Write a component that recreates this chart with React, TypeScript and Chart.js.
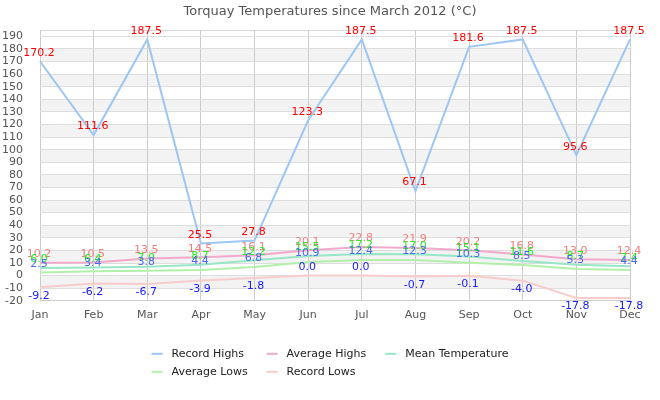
import React, { useEffect, useRef } from "react";
import { Chart, registerables } from "chart.js";

Chart.register(...registerables);

const months = ["Jan", "Feb", "Mar", "Apr", "May", "Jun", "Jul", "Aug", "Sep", "Oct", "Nov", "Dec"];

const recordHighs = [170.2, 111.6, 187.5, 25.5, 27.8, 123.3, 187.5, 67.1, 181.6, 187.5, 95.6, 187.5];
const averageHighs = [10.2, 10.5, 13.5, 14.5, 16.1, 20.1, 22.8, 21.9, 20.2, 16.8, 13.0, 12.4];
const meanTemps = [6.0, 6.4, 7.0, 8.7, 12.2, 15.5, 17.2, 17.0, 15.1, 11.6, 8.7, 7.4];
const averageLows = [2.5, 3.4, 3.8, 4.4, 6.8, 10.9, 12.4, 12.3, 10.3, 8.5, 5.3, 4.4];
const recordLows = [-9.2, -6.2, -6.7, -3.9, -1.8, 0.0, 0.0, -0.7, -0.1, -4.0, -17.8, -17.8];

const seriesNames = ["Record Highs", "Average Highs", "Mean Temperature", "Average Lows", "Record Lows"];
const lineColors = ["#9ec6f2", "#f2a9cc", "#98e6c6", "#b2f0aa", "#f7cccc"];
const labelColors = ["#ff0000", "#f08080", "#22ee22", "#4a6cf0", "#1a1aff"];

const TITLE = "Torquay Temperatures since March 2012 (°C)";
const FONT = "'DejaVu Sans', sans-serif";

// grey bands behind the plot, top border and the title centred on the canvas
const bandsPlugin = {
  id: "bands",
  beforeDraw(chart: any) {
    const { ctx, chartArea, scales } = chart;
    const y = scales.y;
    ctx.save();
    ctx.fillStyle = "#f3f3f3";
    for (let v = -10; v < 190; v += 20) {
      const top = y.getPixelForValue(v + 10);
      const bot = y.getPixelForValue(v);
      ctx.fillRect(chartArea.left, top, chartArea.right - chartArea.left, bot - top);
    }
    ctx.strokeStyle = "#d9d9d9";
    ctx.lineWidth = 1;
    ctx.beginPath();
    ctx.moveTo(chartArea.left, chartArea.top + 0.5);
    ctx.lineTo(chartArea.right, chartArea.top + 0.5);
    ctx.stroke();

    ctx.font = "13px " + FONT;
    ctx.fillStyle = "#555";
    ctx.textAlign = "center";
    ctx.textBaseline = "middle";
    ctx.fillText(TITLE, chart.width / 2, 12);
    ctx.restore();
  },
};

// value labels over/under each point
const valueLabelsPlugin = {
  id: "valueLabels",
  afterDatasetsDraw(chart: any) {
    const { ctx } = chart;
    ctx.save();
    ctx.font = "11px " + FONT;
    ctx.textAlign = "center";
    chart.data.datasets.forEach((ds: any, di: number) => {
      const meta = chart.getDatasetMeta(di);
      ctx.fillStyle = labelColors[di];
      meta.data.forEach((pt: any, i: number) => {
        const v = ds.data[i] as number;
        if (v >= 0) {
          ctx.textBaseline = "bottom";
          ctx.fillText(v.toFixed(1), pt.x - 1, pt.y - 3);
        } else {
          ctx.textBaseline = "top";
          ctx.fillText(v.toFixed(1), pt.x - 1, pt.y + 3);
        }
      });
    });
    ctx.restore();
  },
};

// legend laid out as a grid of 3 columns
const gridLegendPlugin = {
  id: "gridLegend",
  afterDraw(chart: any) {
    const { ctx, chartArea } = chart;
    const cols = 3;
    const marker = 11;
    const gap = 9;
    const spacing = 19;
    ctx.save();
    ctx.font = "11px " + FONT;
    const widths = seriesNames.map((n) => marker + gap + ctx.measureText(n).width);
    const colW: number[] = [];
    widths.forEach((w, i) => {
      const c = i % cols;
      colW[c] = Math.max(colW[c] || 0, w);
    });
    const total = colW.reduce((a, b) => a + b, 0) + spacing * (cols - 1);
    const startX = (chart.width - total) / 2;
    seriesNames.forEach((name, i) => {
      const c = i % cols;
      const r = Math.floor(i / cols);
      let x = startX;
      for (let k = 0; k < c; k++) x += colW[k] + spacing;
      const y = chartArea.bottom + 53 + r * 18;
      ctx.strokeStyle = lineColors[i];
      ctx.lineWidth = 2;
      ctx.beginPath();
      ctx.moveTo(x, y);
      ctx.lineTo(x + marker, y);
      ctx.stroke();
      ctx.fillStyle = "#222";
      ctx.textAlign = "left";
      ctx.textBaseline = "middle";
      ctx.fillText(name, x + marker + gap, y);
    });
    ctx.restore();
  },
};

const App: React.FC = () => {
  const chartRef = useRef<HTMLCanvasElement | null>(null);
  const chartInstance = useRef<Chart | null>(null);

  useEffect(() => {
    if (chartRef.current) {
      const ctx = chartRef.current.getContext("2d");
      if (ctx) {
        if (chartInstance.current) {
          chartInstance.current.destroy();
        }
        const series = [recordHighs, averageHighs, meanTemps, averageLows, recordLows];
        chartInstance.current = new Chart(ctx, {
          type: "line",
          data: {
            labels: months,
            datasets: series.map((d, i) => ({
              label: seriesNames[i],
              data: d,
              borderColor: lineColors[i],
              backgroundColor: lineColors[i],
              borderWidth: 2,
              pointRadius: 0,
              tension: 0,
              fill: false,
            })),
          },
          options: {
            animation: false,
            responsive: false,
            layout: { padding: { left: 0, right: 30, top: 30, bottom: 70 } },
            plugins: {
              legend: { display: false },
              tooltip: { enabled: false },
              title: { display: false },
            },
            scales: {
              x: {
                offset: false,
                grid: { color: "#cccccc", drawTicks: false },
                border: { color: "#cccccc" },
                ticks: { color: "#555", font: { family: FONT, size: 11 }, padding: 8 },
              },
              y: {
                min: -20,
                max: 195,
                grid: { color: "#dddddd", drawTicks: false },
                border: { display: false },
                ticks: {
                  stepSize: 10,
                  autoSkip: false,
                  includeBounds: false,
                  color: "#555",
                  font: { family: FONT, size: 11 },
                  padding: 17,
                },
                afterFit: (scale: any) => {
                  scale.width = 40;
                },
              },
            },
          },
          plugins: [bandsPlugin, valueLabelsPlugin, gridLegendPlugin],
        });
      }
    }
    return () => {
      if (chartInstance.current) {
        chartInstance.current.destroy();
        chartInstance.current = null;
      }
    };
  }, []);

  return (
    <div style={{ position: "absolute", left: 0, top: 0, width: 660, height: 400 }}>
      <canvas ref={chartRef} width={660} height={400} style={{ width: 660, height: 400 }} />
    </div>
  );
};

export default App;
